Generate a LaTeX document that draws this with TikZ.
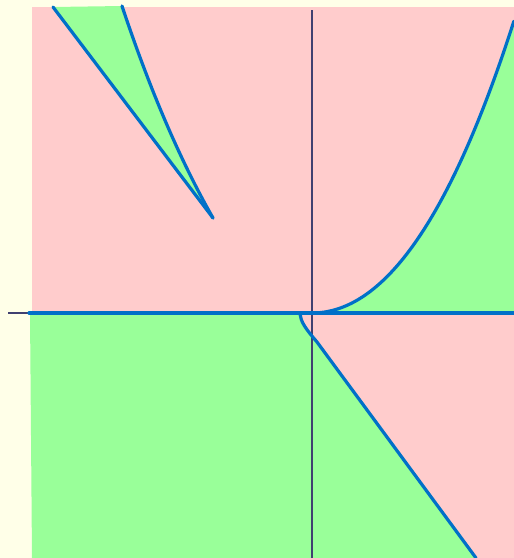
\documentclass[tikz,border=0pt]{standalone}
\usepackage{tikz}
\definecolor{bgyellow}{RGB}{255,255,232}
\definecolor{pinkreg}{RGB}{255,204,204}
\definecolor{greenreg}{RGB}{153,255,153}
\definecolor{curveblue}{RGB}{0,112,200}
\definecolor{axiscol}{RGB}{64,64,112}
\tikzset{
  curve/.style={draw=curveblue, line width=3.2pt, line cap=round, line join=round},
  axisline/.style={draw=axiscol, line width=1.1pt},
}
\begin{document}
\begin{tikzpicture}[x=1pt,y=-1pt]
% background / bounding box
\fill[bgyellow] (0,0) rectangle (514,558);
\useasboundingbox (0,0) rectangle (514,558);
% upper pink
\fill[pinkreg] (32,7) rectangle (514,313);
% upper-left green wedge
\fill[greenreg] (53,7) -- (213,218) .. controls (180,160) and (150,90) .. (122,6) -- cycle;
% upper-right green
\fill[greenreg] (312,313) -- plot[domain=0:2.02, samples=80] ({312+100*\x}, {313-(60.5*\x*\x+5.5*\x*\x*\x)}) -- (514,313) -- cycle;
% lower green
\fill[greenreg] (30,313) -- (300,313) .. controls (301,322) and (305,328) .. (317,342) -- (476,558) -- (32,558) -- cycle;
% lower pink
\fill[pinkreg] (300,313) .. controls (301,322) and (305,328) .. (317,342) -- (476,558) -- (514,558) -- (514,313) -- cycle;
% axes
\draw[axisline] (312,10) -- (312,558);
\draw[axisline] (8,313) -- (514,313);
% curves
\draw[curve] (29,313) -- (514,313);
\draw[curve] (312,313) plot[domain=0:2.02, samples=80] ({312+100*\x}, {313-(60.5*\x*\x+5.5*\x*\x*\x)});
\draw[curve] (53,7) -- (213,218);
\draw[curve] (213,218) .. controls (180,160) and (150,90) .. (122,6);
\draw[curve] (300,314) .. controls (301,322) and (305,328) .. (317,342) -- (476,558);
\end{tikzpicture}
\end{document}
